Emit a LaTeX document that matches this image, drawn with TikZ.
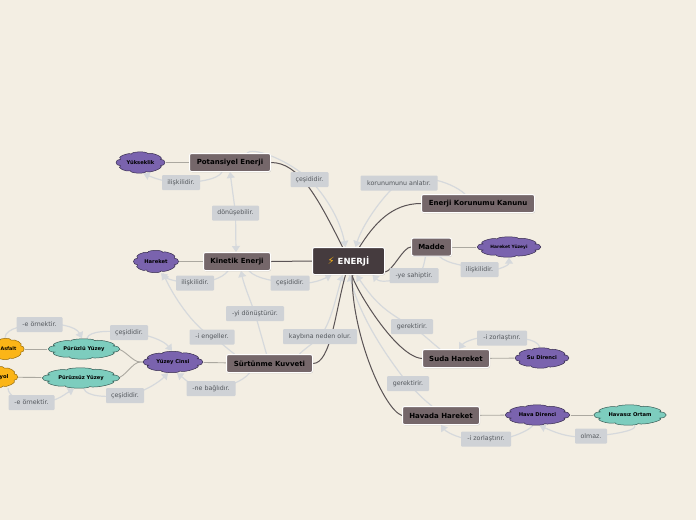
\documentclass[tikz,border=0pt]{standalone}
\usepackage{fontspec}
\setmainfont{DejaVu Sans}
\usetikzlibrary{arrows.meta,shadows}
\pgfdeclarelayer{paperlayer}
\pgfdeclarelayer{bg}
\pgfsetlayers{paperlayer,bg,main}
\definecolor{paper}{HTML}{F3EEE3}
\definecolor{boxfill}{HTML}{75676A}
\definecolor{rootfill}{HTML}{453B3E}
\definecolor{purplefill}{HTML}{7A63AE}
\definecolor{tealfill}{HTML}{7DCDBE}
\definecolor{orangefill}{HTML}{FBB517}
\definecolor{tag}{HTML}{CFD2D6}
\definecolor{tagtext}{HTML}{54585D}
\definecolor{pale}{HTML}{D6D9DC}
\definecolor{dark}{HTML}{5A5355}
\definecolor{mid}{HTML}{ABA8A0}
\tikzset{
  x=1pt,y=-1pt,
  mainbox/.style={draw=white,line width=1pt,rounded corners=2pt,fill=boxfill,inner sep=0pt,
    font=\fontsize{7}{8}\selectfont\bfseries,text=black,
    drop shadow={shadow xshift=0.5pt,shadow yshift=-0.8pt,opacity=.3,fill=black!60}},
  rootbox/.style={mainbox,fill=rootfill,text=white,font=\fontsize{8.5}{10}\selectfont\bfseries},
  purplecloud/.style={draw=black!55!purplefill,fill=purplefill,line width=.5pt},
  tealcloud/.style={draw=black!55!tealfill,fill=tealfill,line width=.5pt},
  orangecloud/.style={draw=black!40!orangefill,fill=orangefill,line width=.5pt},
  cloudtext/.style={inner sep=0pt,text=black,font=\fontsize{5.2}{6}\selectfont\bfseries},
  taglabel/.style={fill=tag,rounded corners=1pt,inner sep=0pt,text=tagtext,
    font=\fontsize{6.3}{7}\selectfont,minimum height=15pt},
  trunk/.style={draw=dark,line width=1pt},
  twig/.style={draw=mid,line width=.9pt},
  link/.style={draw=pale,line width=1.2pt,-{Triangle[width=8pt,length=6pt]}},
  linkboth/.style={draw=pale,line width=1.2pt,{Triangle[width=8pt,length=6pt]}-{Triangle[width=8pt,length=6pt]}},
}
% #1 name, #2 x, #3 y, #4 width, #5 height, #6 cloud style, #7 text options, #8 text
\newcommand{\blobnode}[8]{%
  \path[#6] ({#2+#4/2*.85*cos(160)},{#3+#5/2*.85*sin(160)})
    \foreach \aa/\bb in {160/118,118/75,75/20,20/-20,-20/-70,-70/-115,-115/-160,-160/-200}{
      .. controls ({#2+#4/2*1.08*cos(\aa+(\bb-\aa)*.1)},{#3+#5/2*1.08*sin(\aa+(\bb-\aa)*.1)})
      and ({#2+#4/2*1.08*cos(\aa+(\bb-\aa)*.9)},{#3+#5/2*1.08*sin(\aa+(\bb-\aa)*.9)})
      .. ({#2+#4/2*.85*cos(\bb)},{#3+#5/2*.85*sin(\bb)})
    } -- cycle;
  \node[cloudtext,minimum width=#4 pt,minimum height=#5 pt,#7] (#1) at (#2,#3) {#8};
}
\begin{document}
\begin{tikzpicture}
\useasboundingbox (0,0) rectangle (696,520);
\clip (0,0) rectangle (696,520);
\begin{pgfonlayer}{paperlayer}
\fill[paper] (0,0) rectangle (696,520);
\end{pgfonlayer}

% main boxes
\node[rootbox,minimum width=72pt,minimum height=27pt] (ene) at (348.5,261) {\textcolor{orangefill}{\fontsize{10}{10}\fontspec{DejaVu Sans}⚡} ENERJİ};
\node[mainbox,minimum width=81pt,minimum height=18pt] (pot) at (230,162.5) {Potansiyel Enerji};
\node[mainbox,minimum width=67pt,minimum height=18pt] (kin) at (237,261.5) {Kinetik Enerji};
\node[mainbox,minimum width=86pt,minimum height=18pt] (sur) at (269.5,363.5) {Sürtünme Kuvveti};
\node[mainbox,minimum width=113pt,minimum height=18pt] (kor) at (478,203.5) {Enerji Korunumu Kanunu};
\node[mainbox,minimum width=40pt,minimum height=18pt] (mad) at (431.5,247) {Madde};
\node[mainbox,minimum width=67pt,minimum height=18pt] (sud) at (456,358.5) {Suda Hareket};
\node[mainbox,minimum width=77pt,minimum height=18pt] (hav) at (441,415.5) {Havada Hareket};

% clouds
\blobnode{yuk}{140.5}{162.5}{50}{22}{purplecloud}{}{Yükseklik}
\blobnode{har}{156}{261.5}{46}{23}{purplecloud}{}{Hareket}
\blobnode{yuz}{173}{362}{61}{22}{purplecloud}{}{Yüzey Cinsi}
\blobnode{pur}{84}{349}{73}{21}{tealcloud}{}{Pürüzlü Yüzey}
\blobnode{prs}{81}{378}{79}{21}{tealcloud}{}{Pürüzsüz Yüzey}
\blobnode{asf}{6}{349}{37}{22}{orangecloud}{font=\fontsize{4.8}{6}\selectfont\bfseries}{\hspace*{5pt}Asfalt}
\blobnode{yol}{-1}{377}{38}{22}{orangecloud}{}{\hspace*{10pt}yol}
\blobnode{hyz}{509}{247}{65}{21}{purplecloud}{font=\fontsize{4.4}{5}\selectfont\bfseries}{Hareket Yüzeyi}
\blobnode{sdr}{542}{358}{55}{21}{purplecloud}{}{Su Direnci}
\blobnode{hdr}{537.5}{415}{66}{21}{purplecloud}{}{Hava Direnci}
\blobnode{hor}{630}{415}{74}{21}{tealcloud}{}{Havasız Ortam}

% labels
\node[taglabel,minimum width=38pt] (l1) at (309.5,179.5) {çeşididir.};
\node[taglabel,minimum width=77pt] (l2) at (399,183) {korunumunu anlatır.};
\node[taglabel,minimum width=47pt] (l3) at (235.5,213) {dönüşebilir.};
\node[taglabel,minimum width=38pt] (l4) at (181,182.5) {ilişkilidir.};
\node[taglabel,minimum width=38pt] (l5) at (195,283) {ilişkilidir.};
\node[taglabel,minimum width=39pt] (l6) at (290,283) {çeşididir.};
\node[taglabel,minimum width=49pt] (l7) at (414,275.5) {-ye sahiptir.};
\node[taglabel,minimum width=38pt] (l8) at (479.5,269.5) {ilişkilidir.};
\node[taglabel,minimum width=58pt] (l9) at (255,313.5) {-yi dönüştürür.};
\node[taglabel,minimum width=45pt] (l10) at (212,337) {-i engeller.};
\node[taglabel,minimum width=74pt] (l11) at (320,336.5) {kaybına neden olur.};
\node[taglabel,minimum width=42pt] (l12) at (412,326.5) {gerektirir.};
\node[taglabel,minimum width=42pt] (l13) at (408,383.5) {gerektirir.};
\node[taglabel,minimum width=50pt] (l14) at (502,338) {-i zorlaştırır.};
\node[taglabel,minimum width=50pt] (l15) at (486,439) {-i zorlaştırır.};
\node[taglabel,minimum width=32pt] (l16) at (591,436) {olmaz.};
\node[taglabel,minimum width=49pt] (l17) at (211,388.5) {-ne bağlıdır.};
\node[taglabel,minimum width=38pt] (l18) at (129,332.5) {çeşididir.};
\node[taglabel,minimum width=38pt] (l19) at (125,395.5) {çeşididir.};
\node[taglabel,minimum width=46pt] (l20) at (39.5,324.5) {-e örnektir.};
\node[taglabel,minimum width=46pt] (l21) at (31.5,402.5) {-e örnektir.};

\begin{pgfonlayer}{bg}
% pale links
\draw[link] ([xshift=17pt]pot.north) .. controls +(5,-6) and +(-25,-22) .. (l1.center) .. controls +(14,14) and +(-6,-30) .. ([xshift=-3pt]ene.north);
\draw[link] ([xshift=-13pt]kor.north) .. controls +(-16,-14) and +(18,-10) .. (l2.center) .. controls +(-12,8) and +(8,-25) .. ([xshift=7pt]ene.north);
\draw[link] ([xshift=-6pt]mad.south) .. controls +(-2,10) and +(8,0) .. (l7.center) .. controls +(-24,6) and +(8,8) .. ([xshift=24pt]ene.south);
\draw[link] ([xshift=12pt]kin.south) .. controls +(8,8) and +(-16,-2) .. (l6.center) .. controls +(18,2) and +(-12,6) .. ([xshift=-17pt]ene.south);
\draw[link] ([xshift=30pt]sur.north) .. controls +(6,-6) and +(-8,8) .. (l11.center) .. controls +(10,-12) and +(-8,28) .. ([xshift=-6pt]ene.south);
\draw[link] ([xshift=-16pt]sud.north) .. controls +(-8,-6) and +(12,8) .. (l12.center) .. controls +(-24,-14) and +(20,30) .. ([xshift=8pt]ene.south);
\draw[link] ([xshift=-9pt]hav.north) .. controls +(-8,-6) and +(10,10) .. (l13.center) .. controls +(-24,-30) and +(10,40) .. ([xshift=1pt]ene.south);
\draw[link] ([xshift=-3pt]sur.north) .. controls +(-4,-14) and +(4,14) .. (l9.center) .. controls +(-5,-14) and +(3,14) .. ([xshift=4pt]kin.south);
\draw[link] ([xshift=-35pt]sur.north) .. controls +(-6,-4) and +(8,4) .. (l10.center) .. controls +(-20,-12) and +(10,22) .. ([xshift=7pt]har.south);
\draw[link] ([xshift=-20pt]sur.south) .. controls +(-6,8) and +(14,0) .. (l17.center) .. controls +(-18,0) and +(8,6) .. ([xshift=4pt]yuz.south);
\draw[linkboth] (pot.south) -- (l3.center) -- ([xshift=-1pt]kin.north);
\draw[link] ([xshift=-8pt]pot.south) .. controls +(-4,8) and +(14,0) .. (l4.center) .. controls +(-16,0) and +(10,4) .. ([xshift=3pt]yuk.south);
\draw[link] ([xshift=-9pt]kin.south) .. controls +(-6,8) and +(10,0) .. (l5.center) .. controls +(-14,0) and +(6,6) .. ([xshift=5pt]har.south);
\draw[link] ([xshift=8pt]mad.south) .. controls +(8,8) and +(-12,-4) .. (l8.center) .. controls +(12,4) and +(0,8) .. ([xshift=0pt]hyz.south);
\draw[link] ([xshift=-2pt]sdr.north) .. controls +(-4,-10) and +(14,0) .. (l14.center) .. controls +(-18,-4) and +(6,-8) .. ([xshift=3pt]sud.north);
\draw[link] ([xshift=-5pt]hdr.south) .. controls +(-4,6) and +(14,4) .. (l15.center) .. controls +(-18,4) and +(6,8) .. (hav.south);
\draw[link] ([xshift=5pt]hor.south) .. controls +(2,6) and +(10,0) .. (l16.center) .. controls +(-22,4) and +(10,4) .. ([xshift=2pt]hdr.south);
\draw[link] ([xshift=3pt]pur.north) .. controls +(2,-8) and +(-18,-2) .. (l18.center) .. controls +(20,2) and +(-8,-10) .. ([xshift=-1pt]yuz.north);
\draw[link] ([xshift=3pt]prs.south) .. controls +(2,8) and +(-18,2) .. (l19.center) .. controls +(18,-2) and +(-8,8) .. ([xshift=-5pt]yuz.south);
\draw[link] ([xshift=-1pt]asf.north) .. controls +(0,-10) and +(-12,0) .. (l20.center) .. controls +(18,-2) and +(-6,-12) .. ([xshift=-2pt]pur.north);
\draw[link] ([xshift=9pt]yol.south) .. controls +(0,8) and +(-10,0) .. (l21.center) .. controls +(22,2) and +(-10,6) .. ([xshift=-7pt]prs.south);
% cloud twigs
\draw[twig] (yuk) -- (pot);
\draw[twig] (har) -- (kin);
\draw[twig] (mad) -- (hyz);
\draw[twig] (sud) -- (sdr);
\draw[twig] (hav) -- (hdr);
\draw[twig] (hdr) -- (hor);
\draw[twig] (yuz) -- (sur);
\draw[twig] (asf) -- (pur);
\draw[twig] (yol) -- (prs);
\draw[twig] (yuz.center) -- ([xshift=-2pt]yuz.west) .. controls +(-8,0) and +(8,0) .. ([xshift=-4pt]pur.east);
\draw[twig] (yuz.center) -- ([xshift=-2pt]yuz.west) .. controls +(-8,0) and +(8,0) .. ([xshift=-4pt]prs.east);
% trunks
\draw[trunk] (pot.east) .. controls +(28,0) and +(-25,-50) .. ([xshift=-6pt]ene.north);
\draw[trunk] (kin.east) -- (ene.west);
\draw[trunk] (sur.east) .. controls +(18,0) and +(-10,35) .. ([xshift=-3pt]ene.south);
\draw[trunk] (kor.west) .. controls +(-30,0) and +(14,-22) .. ([xshift=11pt]ene.north);
\draw[trunk] (mad.west) .. controls +(-8,0) and +(8,-1) .. ([yshift=-11pt]ene.east);
\draw[trunk] (sud.west) .. controls +(-30,-2) and +(-12,-10) .. ([xshift=5.5pt]ene.south);
\draw[trunk] (hav.west) .. controls +(-18,-6) and +(0,60) .. ([xshift=3.5pt]ene.south);
\end{pgfonlayer}
\end{tikzpicture}
\end{document}
